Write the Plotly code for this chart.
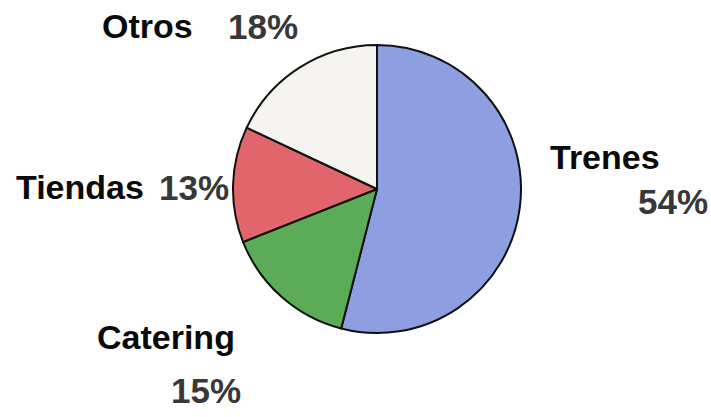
import plotly.graph_objects as go

# Share of revenue by business line
categories = ["Trenes", "Catering", "Tiendas", "Otros"]
shares = [54, 15, 13, 18]
slice_colors = ["#8d9fe0", "#5cac57", "#e0666b", "#f5f4f1"]

W, H = 711, 417

# Pie placement (pixels): centre and radius
cx, cy, r = 377, 189, 144

fig = go.Figure(
    go.Pie(
        labels=categories,
        values=shares,
        sort=False,
        direction="clockwise",
        rotation=0,
        textinfo="none",
        hoverinfo="label+percent",
        marker=dict(colors=slice_colors, line=dict(color="#111111", width=2)),
        domain=dict(
            x=[(cx - r) / W, (cx + r) / W],
            y=[1 - (cy + r) / H, 1 - (cy - r) / H],
        ),
        showlegend=False,
    )
)

# Label placement (pixel centres) for name and percentage of each slice
name_pos = {
    "Trenes": (605, 157),
    "Catering": (166, 337),
    "Tiendas": (80, 187),
    "Otros": (147, 26),
}
pct_pos = {
    "Trenes": (673, 201),
    "Catering": (206, 390),
    "Tiendas": (194, 187),
    "Otros": (263, 26),
}

font_family = "Liberation Sans, Arial, sans-serif"
annotations = []
for name, val in zip(categories, shares):
    nx, ny = name_pos[name]
    px, py = pct_pos[name]
    annotations.append(dict(
        x=nx / W, y=1 - ny / H, xref="paper", yref="paper",
        text=f"<b>{name}</b>", showarrow=False,
        xanchor="center", yanchor="middle",
        font=dict(family=font_family, size=34, color="#0a0a0a"),
    ))
    annotations.append(dict(
        x=px / W, y=1 - py / H, xref="paper", yref="paper",
        text=f"<b>{val}%</b>", showarrow=False,
        xanchor="center", yanchor="middle",
        font=dict(family=font_family, size=35, color="#383838"),
    ))

fig.update_layout(
    width=W, height=H,
    margin=dict(l=0, r=0, t=0, b=0),
    paper_bgcolor="white",
    plot_bgcolor="white",
    annotations=annotations,
)

fig.write_html("out.html")
